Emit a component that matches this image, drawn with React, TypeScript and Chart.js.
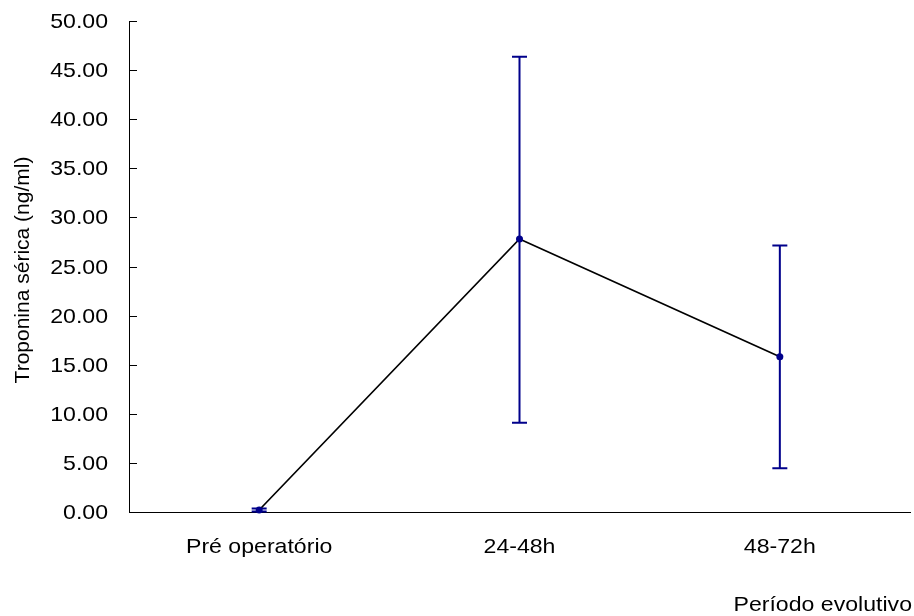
import React, { useEffect, useRef } from "react";
import { Chart, registerables } from "chart.js";

Chart.register(...registerables);

// Periods and serum troponin (mean with upper / lower error limits)
const categories = ["Pré operatório", "24-48h", "48-72h"];
const means = [0.2, 27.8, 15.8];
const upper = [0.35, 46.35, 27.15];
const lower = [0.05, 9.1, 4.45];
const yTicks = [0, 5, 10, 15, 20, 25, 30, 35, 40, 45, 50];
const yTitle = "Troponina sérica (ng/ml)";
const xTitle = "Período evolutivo";

const FONT = "21px 'Liberation Sans', Arial, sans-serif";
const NAVY = "#00008b";

const axisPlugin = {
  id: "axisDecor",
  beforeDatasetsDraw(chart: any) {
    const ctx = chart.ctx;
    const xs = chart.scales.x;
    const ys = chart.scales.y;
    // error bars
    ctx.save();
    ctx.strokeStyle = NAVY;
    ctx.lineWidth = 2;
    categories.forEach((_, i) => {
      const x = xs.getPixelForValue(i);
      const yt = ys.getPixelForValue(upper[i]);
      const yb = ys.getPixelForValue(lower[i]);
      ctx.beginPath();
      ctx.moveTo(x, yt);
      ctx.lineTo(x, yb);
      ctx.moveTo(x - 7.5, yt);
      ctx.lineTo(x + 7.5, yt);
      ctx.moveTo(x - 7.5, yb);
      ctx.lineTo(x + 7.5, yb);
      ctx.stroke();
    });
    ctx.restore();
  },
  afterDraw(chart: any) {
    const ctx = chart.ctx;
    const xs = chart.scales.x;
    const ys = chart.scales.y;
    const left = chart.chartArea.left;
    ctx.save();
    ctx.fillStyle = "#000";
    ctx.strokeStyle = "#000";
    ctx.lineWidth = 1;
    ctx.font = FONT;
    // inward tick marks and labels on the value axis
    yTicks.forEach((v) => {
      const y = Math.round(ys.getPixelForValue(v)) + 0.5;
      ctx.beginPath();
      ctx.moveTo(left, y);
      ctx.lineTo(left + 8, y);
      ctx.stroke();
      ctx.save();
      ctx.translate(108, y + 6);
      ctx.scale(1.1, 1);
      ctx.textAlign = "right";
      ctx.textBaseline = "alphabetic";
      ctx.fillText(v.toFixed(2), 0, 0);
      ctx.restore();
    });
    // category labels
    categories.forEach((c, i) => {
      const x = xs.getPixelForValue(i);
      ctx.save();
      ctx.translate(x, 553);
      ctx.scale(1.1, 1);
      ctx.textAlign = "center";
      ctx.textBaseline = "alphabetic";
      ctx.fillText(c, 0, 0);
      ctx.restore();
    });
    // x axis title
    ctx.save();
    ctx.translate(912, 611);
    ctx.scale(1.1, 1);
    ctx.textAlign = "right";
    ctx.textBaseline = "alphabetic";
    ctx.fillText(xTitle, 0, 0);
    ctx.restore();
    // y axis title
    ctx.save();
    ctx.translate(28.5, 270);
    ctx.rotate(-Math.PI / 2);
    ctx.textAlign = "center";
    ctx.textBaseline = "alphabetic";
    ctx.fillText(yTitle, 0, 0);
    ctx.restore();
    ctx.restore();
  },
};

export default function App() {
  const ref = useRef<HTMLCanvasElement | null>(null);

  useEffect(() => {
    if (!ref.current) return;
    const chart = new Chart(ref.current, {
      type: "line",
      data: {
        labels: categories,
        datasets: [
          {
            data: means,
            borderColor: "#000",
            borderWidth: 1.7,
            pointBackgroundColor: NAVY,
            pointBorderColor: NAVY,
            pointRadius: 3.5,
            pointBorderWidth: 0,
            tension: 0,
            clip: false,
          },
        ],
      },
      options: {
        responsive: false,
        animation: false,
        events: [],
        layout: { padding: { left: 0, right: 0, top: 21, bottom: 0 } },
        plugins: {
          legend: { display: false },
          tooltip: { enabled: false },
        },
        scales: {
          x: {
            type: "category",
            offset: true,
            grid: { display: false, drawTicks: false },
            border: { display: true, color: "#000", width: 1 },
            ticks: { display: false },
            afterFit(scale: any) {
              scale.height = 104;
            },
          },
          y: {
            min: 0,
            max: 50,
            grid: { display: false, drawTicks: false },
            border: { display: true, color: "#000", width: 1 },
            ticks: { display: false, stepSize: 5 },
            afterFit(scale: any) {
              scale.width = 129;
            },
          },
        },
      },
      plugins: [axisPlugin],
    });
    return () => chart.destroy();
  }, []);

  return (
    <div style={{ position: "absolute", left: 0, top: 0, width: 914, height: 616, background: "#fff" }}>
      <canvas ref={ref} width={914} height={616} style={{ display: "block" }} />
    </div>
  );
}
